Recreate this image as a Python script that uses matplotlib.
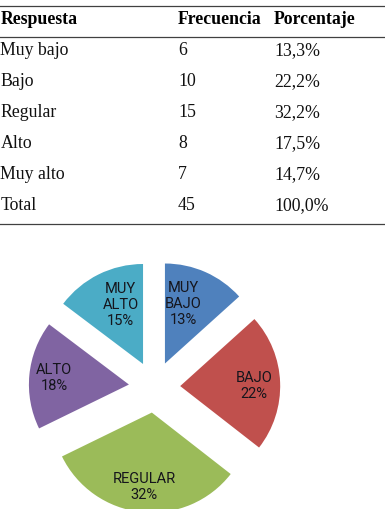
import matplotlib
matplotlib.use("Agg")
import matplotlib.pyplot as plt
import numpy as np
from matplotlib.lines import Line2D

# ---- data ----
categories = ["Muy bajo", "Bajo", "Regular", "Alto", "Muy alto"]
frecuencia = [6, 10, 15, 8, 7]
porcentaje = [13.3, 22.2, 32.2, 17.5, 14.7]
porcentaje_txt = ["13,3%", "22,2%", "32,2%", "17,5%", "14,7%"]
total_freq = 45
total_pct = "100,0%"
header = ["Respuesta", "Frecuencia", "Porcentaje"]
pie_labels = ["MUY\nBAJO\n13%", "BAJO\n22%", "REGULAR\n32%", "ALTO\n18%", "MUY\nALTO\n15%"]

# ---- style ----
colors = ["#4F81BD", "#C0504D", "#9BBB59", "#8064A2", "#4BACC6"]
W, H = 385, 510
DPI = 100

fig = plt.figure(figsize=(W / DPI, H / DPI), dpi=DPI)
fig.patch.set_facecolor("white")

def fy(px):  # pixel from top -> figure fraction
    return 1 - px / H

def fx(px):
    return px / W

serif = ["Liberation Serif", "DejaVu Serif"]
fs = 12.8
line_col = "#404040"
col_x = [0.5, 178, 274]

# table lines
for ypx in [6.5, 38, 224.5]:
    fig.add_artist(Line2D([0, 1], [fy(ypx), fy(ypx)], color=line_col, lw=0.9,
                          transform=fig.transFigure))

# header
for x, t in zip(col_x, header):
    fig.text(fx(x), fy(24), t, family=serif, fontsize=fs, fontweight="bold",
             ha="left", va="baseline", color="black")

rows = [[c, str(f), p] for c, f, p in zip(categories, frecuencia, porcentaje_txt)]
rows.append(["Total", str(total_freq), total_pct])
for i, row in enumerate(rows):
    base = 55 + 31 * i
    for x, t in zip(col_x, row):
        fig.text(fx(x), fy(base), t, family=serif, fontsize=fs,
                 ha="left", va="baseline", color="#111111")

# ---- pie ----
ax = fig.add_axes([0, 0, 1, 1])
explode = [0.257] * len(porcentaje)
wedges, _ = ax.pie(porcentaje, colors=colors, startangle=90, counterclock=False,
                   explode=explode, radius=1.0, wedgeprops=dict(linewidth=0))
cx, cy, R = 154.5, 388, 100.0
ax.set_xlim(-cx / R, (W - cx) / R)
ax.set_ylim(-(H - cy) / R, cy / R)
ax.set_aspect("equal")
ax.axis("off")

label_r = [0.63, 0.74, 0.74, 0.75, 0.64]
label_dang = [7, -1.5, 0, 0, -6]
for w, lab, r, da in zip(wedges, pie_labels, label_r, label_dang):
    ang = np.deg2rad((w.theta1 + w.theta2) / 2 + da)
    x0, y0 = w.center
    ax.text(x0 + r * np.cos(ang), y0 + r * np.sin(ang), lab, ha="center", va="center",
            family=["Roboto", "DejaVu Sans"], fontsize=10.5,
            linespacing=1.2, color="#15151c")

fig.savefig("out.png", dpi=DPI)
